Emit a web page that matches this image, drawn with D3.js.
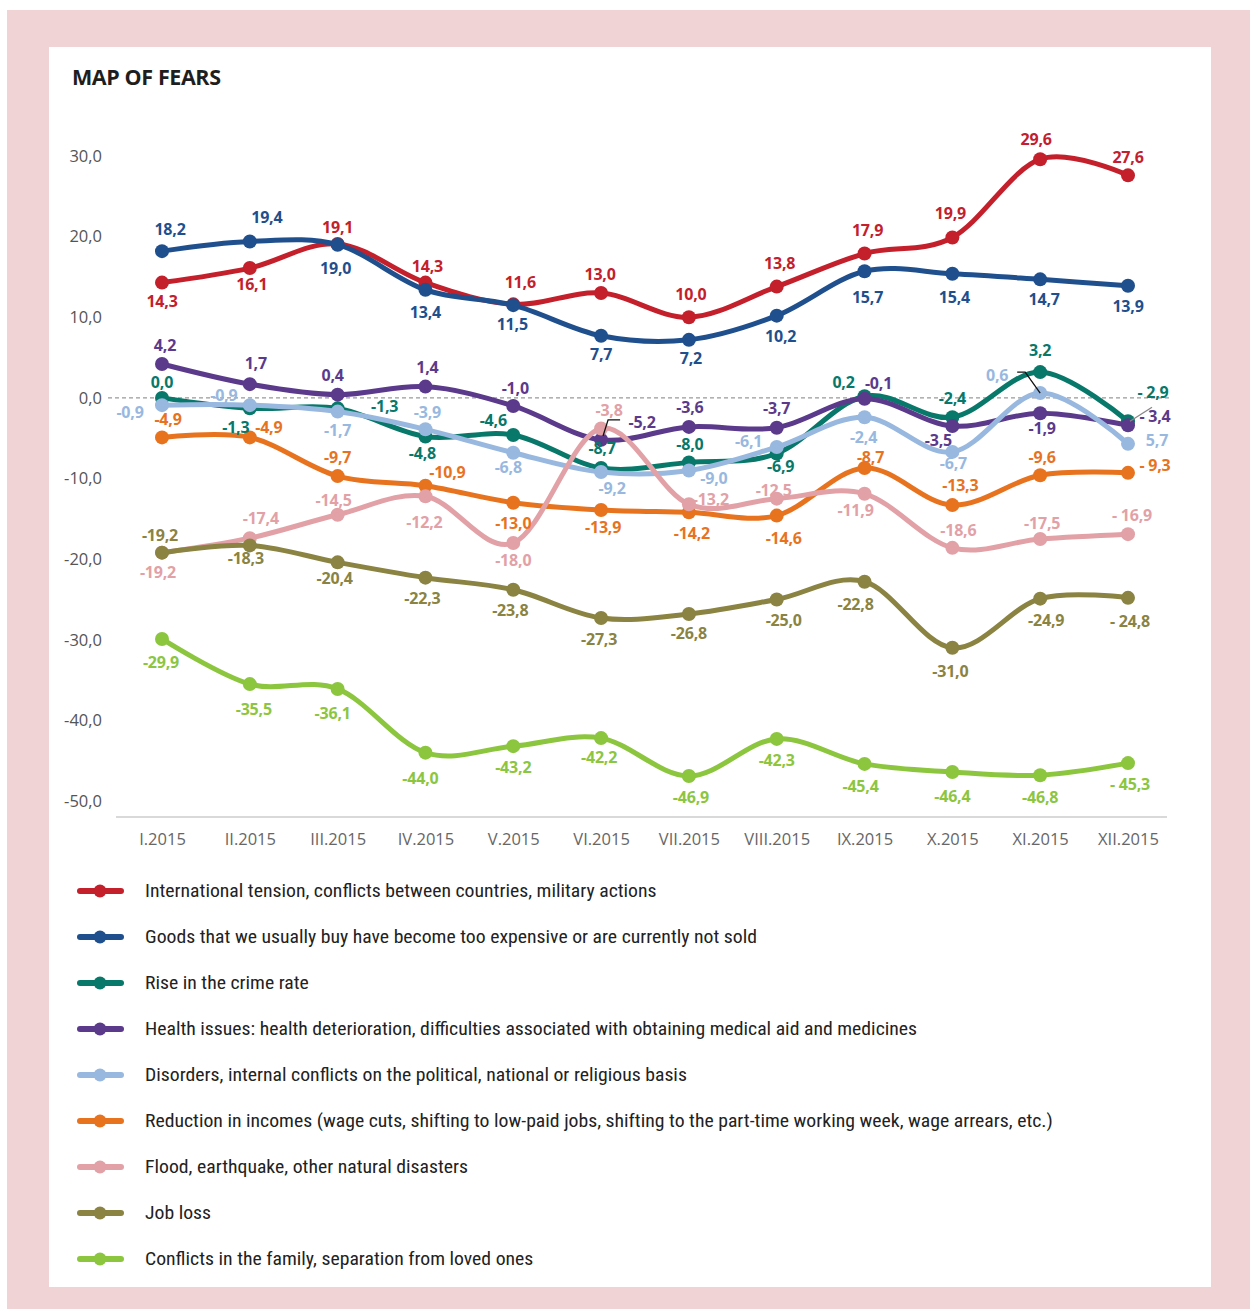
<!DOCTYPE html>
<html><head><meta charset="utf-8">
<script src="https://cdn.jsdelivr.net/npm/d3@7"></script>
<style>
html,body{margin:0;padding:0;background:#fff;}
svg{display:block;}
</style></head>
<body>
<svg id="chart" width="1250" height="1309"></svg>
<script>
// ---------- DATA ----------
const months = ["I.2015","II.2015","III.2015","IV.2015","V.2015","VI.2015","VII.2015","VIII.2015","IX.2015","X.2015","XI.2015","XII.2015"];
const yTicks = [30,20,10,0,-10,-20,-30,-40,-50];
const seriesNames = [
  "International tension, conflicts between countries, military actions",
  "Goods that we usually buy have become too expensive or are currently not sold",
  "Rise in the crime rate",
  "Health issues: health deterioration, difficulties associated with obtaining medical aid and medicines",
  "Disorders, internal conflicts on the political, national or religious basis",
  "Reduction in incomes (wage cuts, shifting to low-paid jobs, shifting to the part-time working week, wage arrears, etc.)",
  "Flood, earthquake, other natural disasters",
  "Job loss",
  "Conflicts in the family, separation from loved ones"
];
const tension   = [14.3,16.1,19.1,14.3,11.6,13.0,10.0,13.8,17.9,19.9,29.6,27.6];
const goods     = [18.2,19.4,19.0,13.4,11.5,7.7,7.2,10.2,15.7,15.4,14.7,13.9];
const crime     = [0.0,-1.3,-1.3,-4.8,-4.6,-8.7,-8.0,-6.9,0.2,-2.4,3.2,-2.9];
const health    = [4.2,1.7,0.4,1.4,-1.0,-5.2,-3.6,-3.7,-0.1,-3.5,-1.9,-3.4];
const disorders = [-0.9,-0.9,-1.7,-3.9,-6.8,-9.2,-9.0,-6.1,-2.4,-6.7,0.6,-5.7];
const incomes   = [-4.9,-4.9,-9.7,-10.9,-13.0,-13.9,-14.2,-14.6,-8.7,-13.3,-9.6,-9.3];
const disasters = [-19.2,-17.4,-14.5,-12.2,-18.0,-3.8,-13.2,-12.5,-11.9,-18.6,-17.5,-16.9];
const jobLoss   = [-19.2,-18.3,-20.4,-22.3,-23.8,-27.3,-26.8,-25.0,-22.8,-31.0,-24.9,-24.8];
const family    = [-29.9,-35.5,-36.1,-44.0,-43.2,-42.2,-46.9,-42.3,-45.4,-46.4,-46.8,-45.3];
// label text as printed (last-month labels differ in the source)
const lastLabels = ["27,6","13,9","- 2,9","- 3,4","5,7","- 9,3","- 16,9","- 24,8","- 45,3"];

// ---------- STYLE / LAYOUT ----------
const colors = ["#c3202c","#1f4f8d","#08786a","#5b3a8c","#98b8df","#e8731f","#e2a1a6","#8a8342","#8cc63f"];
const labelOffsets = [
  [[0,18],[2,16],[0,-17],[2,-17],[7,-22],[-1,-19],[2,-23],[3,-24],[3,-24],[-2,-24],[-4,-20],[0,-18]],
  [[8,-22],[17,-24],[-2,23],[0,22],[-1,19],[0,18],[2,18],[4,20],[3,26],[2,23],[4,20],[0,20]],
  [[0,-16],[-14,19],[47,-2],[-3,16],[-20,-15],[1,-20],[1,-18],[4,12],[-21,-14],[0,-19],[0,-22],[25,-29]],
  [[3,-19],[6,-21],[-5,-20],[2,-20],[2,-18],[41,-18],[1,-20],[0,-20],[14,-16],[-14,14],[2,15],[27,-9]],
  [[-32,7],[-26,-10],[0,18],[2,-17],[-5,14],[11,16],[25,8],[-28,-6],[-1,20],[1,11],[-43,-18],[29,-4]],
  [[6,-18],[19,-10],[0,-19],[22,-14],[0,20],[2,17],[3,21],[7,22],[6,-11],[8,-20],[2,-18],[27,-8]],
  [[-4,19],[11,-20],[-4,-15],[-1,26],[0,17],[8,-19],[22,-5],[-3,-9],[-9,16],[6,-18],[2,-16],[4,-19]],
  [[-2,-18],[-4,13],[-3,16],[-3,20],[-3,20],[-2,21],[0,19],[7,21],[-9,22],[-2,23],[6,21],[2,23]],
  [[-1,23],[4,25],[-5,24],[-5,25],[0,21],[-2,19],[2,21],[0,21],[-4,22],[0,24],[0,22],[2,21]]
];
// leader lines: [series, monthIndex, relative points, colour]
const leaders = [
  [3,5,[[2,-4],[7,-20],[19,-20]],"#111"],
  [4,10,[[0,0],[-15,-21],[-23,-21]],"#111"],
  [3,11,[[2,-4],[24,-18]],"#888"]
];

const allSeries = [tension,goods,crime,health,disorders,incomes,disasters,jobLoss,family];
const FONT = "'Open Sans', sans-serif";

const svg = d3.select("#chart");
// backgrounds
svg.append("rect").attr("x",0).attr("y",0).attr("width",1250).attr("height",1309).attr("fill","#fff");
svg.append("rect").attr("x",7).attr("y",10).attr("width",1243).attr("height",1299).attr("fill","#f0d3d4");
svg.append("rect").attr("x",49).attr("y",47).attr("width",1162).attr("height",1240).attr("fill","#fff");

svg.append("text").attr("x",72).attr("y",85).text("MAP OF FEARS")
  .attr("font-family",FONT).attr("font-weight",700).attr("font-size",21.5)
  .attr("fill","#1e1e1e").attr("letter-spacing",-0.4);

const x = d3.scalePoint().domain(months).range([162,1128]);
const y = d3.scaleLinear().domain([-50,30]).range([801,156]);

// y axis labels
const yAxis = d3.axisLeft(y).tickValues(yTicks).tickSize(0).tickPadding(0)
  .tickFormat(d => d3.format(".1f")(d).replace(".",",").replace("−","-"));
const gy = svg.append("g").attr("transform","translate(102,0)").call(yAxis);
gy.select(".domain").remove();
gy.selectAll("text").attr("font-family",FONT).attr("font-size",16.5).attr("fill","#555");

// x axis
const xAxis = d3.axisBottom(x).tickSize(0).tickPadding(0);
const gx = svg.append("g").attr("transform","translate(0,833)").call(xAxis);
gx.select(".domain").remove();
gx.selectAll("text").attr("font-family",FONT).attr("font-size",16.5).attr("fill","#666");
svg.append("line").attr("x1",116).attr("x2",1167).attr("y1",y(-50)+16).attr("y2",y(-50)+16)
  .attr("stroke","#d9d9d9").attr("stroke-width",2);

// zero line
svg.append("line").attr("x1",108).attr("x2",1170).attr("y1",y(0)).attr("y2",y(0))
  .attr("stroke","#999").attr("stroke-width",1.2).attr("stroke-dasharray","4,3");

const line = d3.line().x((d,i)=>x(months[i])).y(d=>y(d)).curve(d3.curveCatmullRom.alpha(0));

const fmt = v => d3.format(".1f")(v).replace(".",",").replace("−","-");

allSeries.forEach((vals,si)=>{
  const g = svg.append("g");
  g.append("path").attr("d",line(vals)).attr("fill","none").attr("stroke",colors[si])
    .attr("stroke-width",5).attr("stroke-linecap","round").attr("stroke-linejoin","round");
  g.selectAll("circle").data(vals).join("circle")
    .attr("cx",(d,i)=>x(months[i])).attr("cy",d=>y(d)).attr("r",7).attr("fill",colors[si]);
});

// leader lines
leaders.forEach(([si,mi,pts,c])=>{
  const px = x(months[mi]), py = y(allSeries[si][mi]);
  svg.append("path").attr("d",d3.line()(pts.map(p=>[px+p[0],py+p[1]])))
    .attr("fill","none").attr("stroke",c).attr("stroke-width",1.3);
});

// labels
allSeries.forEach((vals,si)=>{
  svg.append("g").selectAll("text").data(vals).join("text")
    .attr("x",(d,i)=>x(months[i])+labelOffsets[si][i][0])
    .attr("y",(d,i)=>y(d)+labelOffsets[si][i][1])
    .attr("text-anchor","middle").attr("dominant-baseline","central")
    .attr("font-family",FONT).attr("font-weight",700).attr("font-size",16)
    .attr("letter-spacing",-0.2)
    .attr("fill",colors[si])
    .text((d,i)=> i===vals.length-1 ? lastLabels[si] : fmt(d));
});

// legend
const leg = svg.append("g");
seriesNames.forEach((name,si)=>{
  const cy = 891 + si*46;
  leg.append("line").attr("x1",80).attr("x2",121).attr("y1",cy).attr("y2",cy)
    .attr("stroke",colors[si]).attr("stroke-width",6).attr("stroke-linecap","round");
  leg.append("circle").attr("cx",100).attr("cy",cy).attr("r",6.5).attr("fill",colors[si]);
  leg.append("text").attr("class","legtext").attr("x",145).attr("y",cy).attr("dominant-baseline","central")
    .attr("font-family","'Liberation Sans Narrow','Roboto Condensed',Roboto,sans-serif").attr("font-size",18.5)
    .attr("fill","#222").text(name);
});
// fit legend text width to the reference proportions
const first = leg.select(".legtext").node();
const w = first.getComputedTextLength();
const k = 512 / w;
if (Math.abs(k-1) > 0.03) {
  leg.selectAll(".legtext").each(function(){
    d3.select(this).attr("transform",`translate(145,0) scale(${k},1) translate(-145,0)`);
  });
}
</script>
</body></html>
